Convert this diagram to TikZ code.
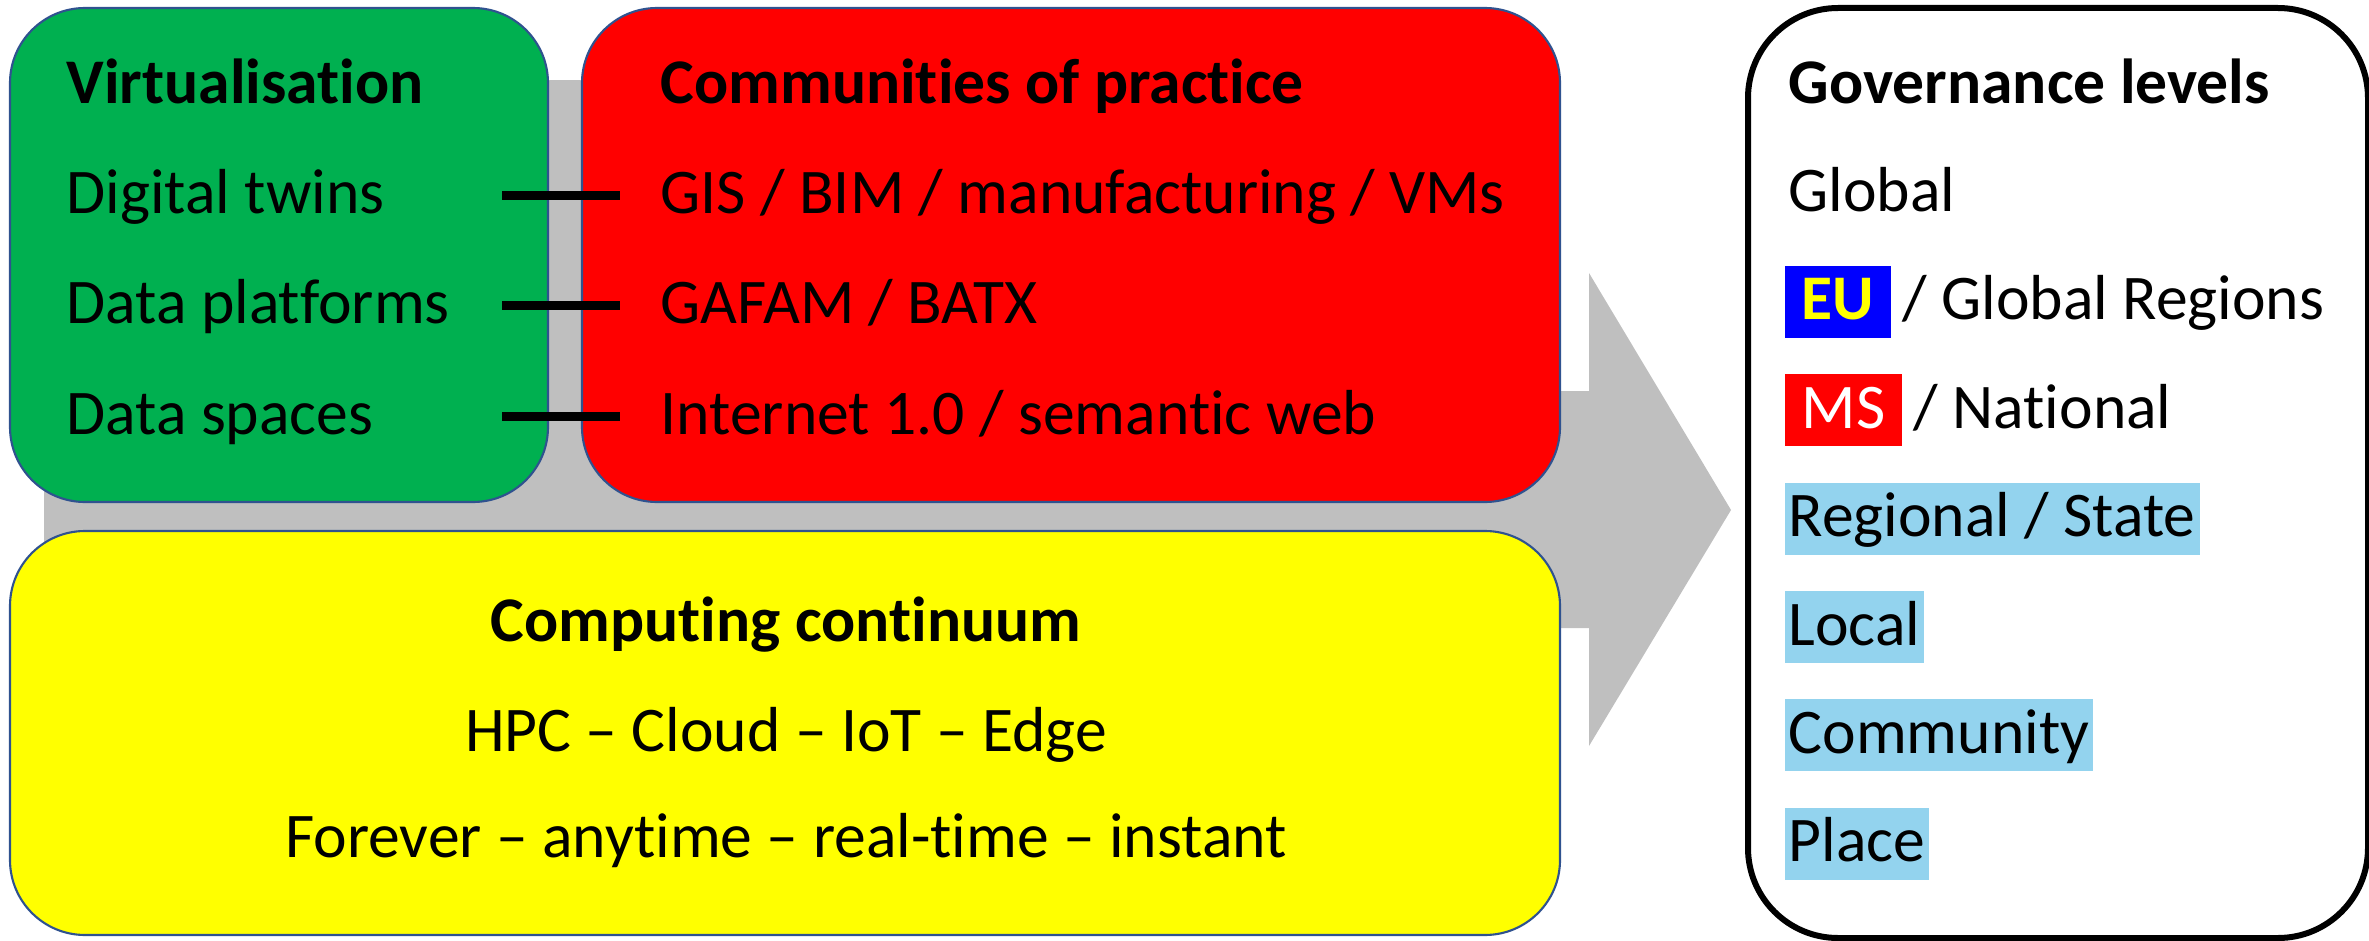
\documentclass[tikz,border=0pt]{standalone}
\usepackage{fontspec}
\setmainfont{Carlito}[Ligatures=NoCommon]
\usetikzlibrary{positioning}
\definecolor{vgreen}{RGB}{0,176,80}
\definecolor{cred}{RGB}{255,0,0}
\definecolor{cyellow}{RGB}{255,255,0}
\definecolor{arrowgray}{RGB}{191,191,191}
\definecolor{boxline}{RGB}{47,82,143}
\definecolor{eublue}{RGB}{0,0,255}
\definecolor{lvlblue}{RGB}{147,211,238}
\tikzset{
  panel/.style={draw=boxline, line width=0.6pt, rounded corners=0.75cm, inner sep=0pt, outer sep=0pt, anchor=north west},
  row/.style={inner xsep=0pt, inner ysep=0pt, text height=0.54cm, text depth=0.18cm, font=\fontsize{18.1}{21}\selectfont},
  head/.style={row, font=\fontsize{18.1}{21}\selectfont\bfseries},
  lvl/.style={row, inner xsep=0.04cm},
  hl/.style={lvl, fill=lvlblue},
  link/.style={line width=0.09cm}
}
\begin{document}
\begin{tikzpicture}
\useasboundingbox (0,0) rectangle (23.69,9.40);

\fill[arrowgray] (0.44,8.60) -- (15.0,8.60) -- (15.0,5.49) -- (15.89,5.49) -- (15.89,6.67)
  -- (17.31,4.30) -- (15.89,1.94) -- (15.89,3.12) -- (15.0,3.12) -- (15.0,0.40) -- (0.44,0.40) -- cycle;

\node (virt) [panel, fill=vgreen, minimum width=5.38cm, minimum height=4.94cm] at (0.10,9.32) {};
\node (comm) [panel, fill=cred, minimum width=9.78cm, minimum height=4.94cm] at (5.82,9.32) {};
\node (comp) [panel, fill=cyellow, minimum width=15.50cm, minimum height=4.04cm] at (0.10,4.09) {};
\node (gov) [draw, line width=0.06cm, rounded corners=0.9cm, fill=white, minimum width=6.20cm, minimum height=9.30cm, anchor=north west] at (17.45,9.35) {};

\node (virtT) [head, anchor=base west] at (0.66,8.37) {Virtualisation};
\node (twins) [row, below=0.37cm of virtT.south west, anchor=north west] {Digital twins};
\node (platf) [row, below=0.37cm of twins.south west, anchor=north west] {Data platforms};
\node (spaces) [row, below=0.37cm of platf.south west, anchor=north west] {Data spaces};

\node (commT) [head, anchor=base west] at (6.60,8.37) {Communities of practice};
\node (gis) [row, below=0.37cm of commT.south west, anchor=north west] {GIS / BIM / manufacturing / VMs};
\node (gafam) [row, below=0.37cm of gis.south west, anchor=north west] {GAFAM / BATX};
\node (web) [row, below=0.37cm of gafam.south west, anchor=north west] {Internet 1.0 / semantic web};

\draw[link] ([xshift=-0.46cm]virt.east |- twins) -- ([xshift=0.38cm]comm.west |- gis);
\draw[link] ([xshift=-0.46cm]virt.east |- platf) -- ([xshift=0.38cm]comm.west |- gafam);
\draw[link] ([xshift=-0.46cm]virt.east |- spaces) -- ([xshift=0.38cm]comm.west |- web);

\node (compT) [head, anchor=base] at (7.86,2.99) {Computing continuum};
\node (hpc) [row, below=0.37cm of compT] {HPC – Cloud – IoT – Edge};
\node (when) [row, below=0.33cm of hpc] {Forever – anytime – real-time – instant};

\node (govT) [head, inner xsep=0.04cm, anchor=base west] at (17.84,8.37) {Governance levels};
\node (glob) [lvl, below=0.35cm of govT.south west, anchor=north west] {Global};
\node (eu) [lvl, fill=eublue, text=cyellow, font=\fontsize{18.1}{21}\selectfont\bfseries, inner xsep=0.17cm, below=0.35cm of glob.south west, anchor=north west] {EU};
\node (euR) [lvl, right=0.06cm of eu] {/ Global Regions};
\node (ms) [lvl, fill=cred, text=white, inner xsep=0.17cm, below=0.35cm of eu.south west, anchor=north west] {MS};
\node (msR) [lvl, right=0.06cm of ms] {/ National};
\node (reg) [hl, below=0.35cm of ms.south west, anchor=north west] {Regional / State};
\node (loc) [hl, below=0.35cm of reg.south west, anchor=north west] {Local};
\node (cmty) [hl, below=0.35cm of loc.south west, anchor=north west] {Community};
\node (place) [hl, below=0.35cm of cmty.south west, anchor=north west] {Place};
\end{tikzpicture}
\end{document}
